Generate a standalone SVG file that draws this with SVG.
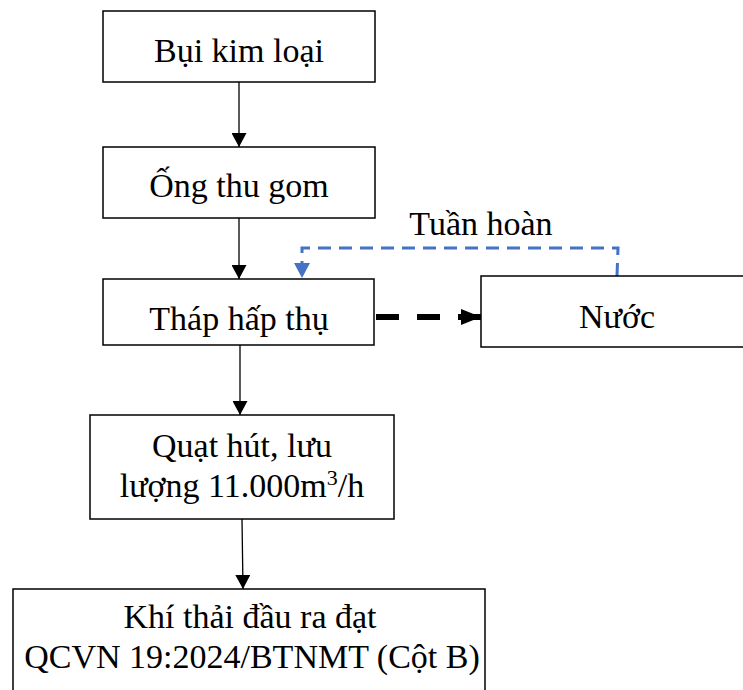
<svg xmlns="http://www.w3.org/2000/svg" width="743" height="690" viewBox="0 0 743 690">
<style>
.box{fill:#fff;stroke:#000;stroke-width:1.5}
.t{font-family:"Liberation Serif","Times New Roman",serif;font-size:34px;fill:#000;text-anchor:middle}
.ln{stroke:#000;stroke-width:1.3;fill:none}
</style>
<defs>
<marker id="ah" viewBox="0 0 14 15" refX="14" refY="7.5" markerWidth="14" markerHeight="15" markerUnits="userSpaceOnUse" orient="auto"><path d="M0,0 L14,7.5 L0,15 Z" fill="#000"/></marker>
<marker id="ahb" viewBox="0 0 15 16" refX="15" refY="8" markerWidth="15" markerHeight="16" markerUnits="userSpaceOnUse" orient="auto"><path d="M0,0 L15,8 L0,16 Z" fill="#4472C4"/></marker>
<marker id="ahk" viewBox="0 0 20 16" refX="20" refY="8" markerWidth="20" markerHeight="16" markerUnits="userSpaceOnUse" orient="auto"><path d="M0,0 L20,8 L0,16 Z" fill="#000"/></marker>
</defs>
<g id="connectors">
<line class="ln" x1="239" y1="82" x2="239" y2="147" marker-end="url(#ah)"/>
<line class="ln" x1="239" y1="218" x2="239" y2="279" marker-end="url(#ah)"/>
<line class="ln" x1="240" y1="345" x2="240" y2="415" marker-end="url(#ah)"/>
<line class="ln" x1="242" y1="519" x2="243" y2="589" marker-end="url(#ah)"/>
<line x1="376" y1="317" x2="481" y2="317" stroke="#000" stroke-width="6" stroke-dasharray="23,18" marker-end="url(#ahk)"/>
<path d="M617,276 L618,248 L302,248 L302,278" fill="none" stroke="#4472C4" stroke-width="3" stroke-dasharray="13,8" marker-end="url(#ahb)"/>
<text class="t" x="481" y="235">Tuần hoàn</text>
</g>
<g id="n1"><rect class="box" x="103" y="11" width="272" height="71"/><text class="t" x="239" y="62">Bụi kim loại</text></g>
<g id="n2"><rect class="box" x="103" y="147" width="272" height="71"/><text class="t" x="239" y="197">Ống thu gom</text></g>
<g id="n3"><rect class="box" x="103" y="279" width="271" height="66"/><text class="t" x="239" y="330">Tháp hấp thụ</text></g>
<g id="n4"><rect class="box" x="481" y="276" width="270" height="71"/><text class="t" x="617" y="328">Nước</text></g>
<g id="n5"><rect class="box" x="90" y="415" width="304" height="104"/><text class="t" x="242" y="457">Quạt hút, lưu</text><text class="t" x="242" y="497">lượng 11.000m<tspan font-size="22" dy="-12">3</tspan><tspan dy="12">/h</tspan></text></g>
<g id="n6"><rect class="box" x="13" y="589" width="472" height="110"/><text class="t" x="250" y="628">Khí thải đầu ra đạt</text><text class="t" x="252" y="668">QCVN 19:2024/BTNMT (Cột B)</text></g>
</svg>
